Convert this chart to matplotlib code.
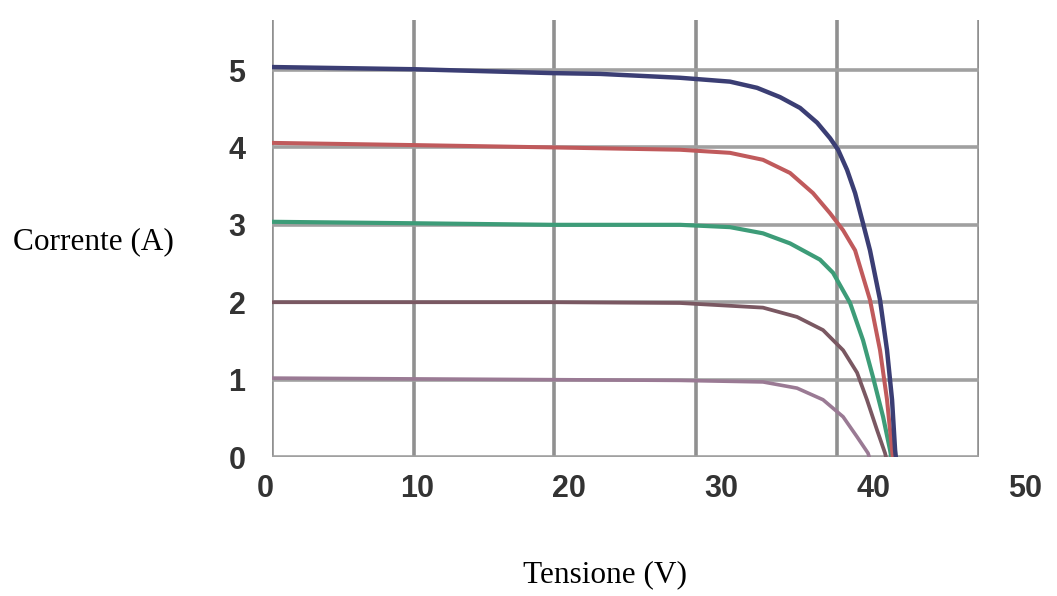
import matplotlib
matplotlib.use("Agg")
import matplotlib.pyplot as plt

# ---- data ----
x_ticks = [0, 10, 20, 30, 40, 50]
x_tick_labels = ["0", "10", "20", "30", "40", "50"]
y_ticks = [0, 1, 2, 3, 4, 5]
y_tick_labels = ["0", "1", "2", "3", "4", "5"]
grid_x = [0.46, 9.80, 19.01, 28.36, 37.63, 46.97]

v_5 = [0.0, 9.87, 18.95, 22.04, 27.30, 30.59, 32.37, 33.88, 35.20, 36.32, 37.17,
       37.70, 38.29, 38.82, 39.34, 39.80, 40.46, 40.92, 41.25, 41.45, 41.5]
i_5 = [5.04, 5.01, 4.96, 4.95, 4.90, 4.85, 4.77, 4.65, 4.51, 4.32, 4.12,
       3.97, 3.71, 3.41, 3.02, 2.67, 2.03, 1.38, 0.74, 0.09, 0.0]

v_4 = [0.0, 9.87, 18.95, 27.30, 30.59, 32.76, 34.54, 36.05, 37.17, 38.03, 38.82,
       39.80, 40.46, 40.92, 41.25, 41.3]
i_4 = [4.06, 4.03, 4.00, 3.97, 3.93, 3.84, 3.67, 3.41, 3.15, 2.93, 2.67,
       2.03, 1.38, 0.74, 0.09, 0.0]

v_3 = [0.0, 9.87, 18.95, 27.30, 30.59, 32.76, 34.54, 36.51, 37.37, 38.49, 39.34,
       40.0, 40.66, 41.12, 41.2]
i_3 = [3.04, 3.02, 3.00, 3.00, 2.97, 2.89, 2.76, 2.55, 2.38, 1.99, 1.51,
       1.03, 0.52, 0.09, 0.0]

v_2 = [0.0, 18.95, 27.30, 32.76, 35.0, 36.71, 38.03, 38.95, 39.6, 40.26, 40.79, 40.85]
i_2 = [2.00, 2.00, 1.99, 1.93, 1.81, 1.64, 1.38, 1.09, 0.74, 0.35, 0.05, 0.0]

v_1 = [0.0, 27.30, 32.76, 35.0, 36.71, 38.03, 38.95, 39.67, 39.75]
i_1 = [1.02, 0.99, 0.97, 0.89, 0.74, 0.52, 0.26, 0.05, 0.0]

series = [
    (v_1, i_1, "#9a7a94", 2.6),
    (v_2, i_2, "#7a5862", 2.7),
    (v_3, i_3, "#3d9c78", 3.0),
    (v_4, i_4, "#c05a5c", 2.9),
    (v_5, i_5, "#3b3e74", 3.2),
]

fig = plt.figure(figsize=(10.57, 5.96), dpi=100)
ax = fig.add_axes([0.2573, 0.2332, 0.6689, 0.7332])
ax.set_xlim(0.46, 46.97)
ax.set_ylim(0, 5.646)

for v, i, c, lw in series:
    ax.plot(v, i, color=c, lw=lw, solid_capstyle="round", solid_joinstyle="round", zorder=3)

for s in ax.spines.values():
    s.set_visible(False)

ax.set_yticks(y_ticks)
ax.set_yticklabels(y_tick_labels)
ax.set_xticks([])
ax.set_xticks(grid_x, minor=True)
ax.tick_params(axis="x", which="both", length=0, labelbottom=False)
ax.tick_params(axis="y", length=0, pad=19, labelsize=22, labelcolor="#333333")
for t in ax.get_yticklabels():
    t.set_fontfamily("Liberation Sans")
    t.set_fontweight("bold")

ax.grid(True, axis="y", which="major", color="#a0a0a0", lw=2.6, zorder=1)
ax.grid(True, axis="x", which="minor", color="#909090", lw=2.6, zorder=1)

xt = ax.get_xaxis_transform()
for v, lab in zip(x_ticks, x_tick_labels):
    ax.text(v, -0.04, lab, transform=xt, ha="center", va="top", fontsize=22,
            fontfamily="Liberation Sans", fontweight="bold", color="#333333",
            clip_on=False)

fig.text(93.5 / 1057, 1 - 242 / 596, "Corrente (A)", ha="center", va="center",
         fontsize=22.5, fontfamily="Liberation Serif", color="black")
fig.text(605 / 1057, 1 - 575 / 596, "Tensione (V)", ha="center", va="center",
         fontsize=22.5, fontfamily="Liberation Serif", color="black")

fig.savefig("out.png", dpi=100)
